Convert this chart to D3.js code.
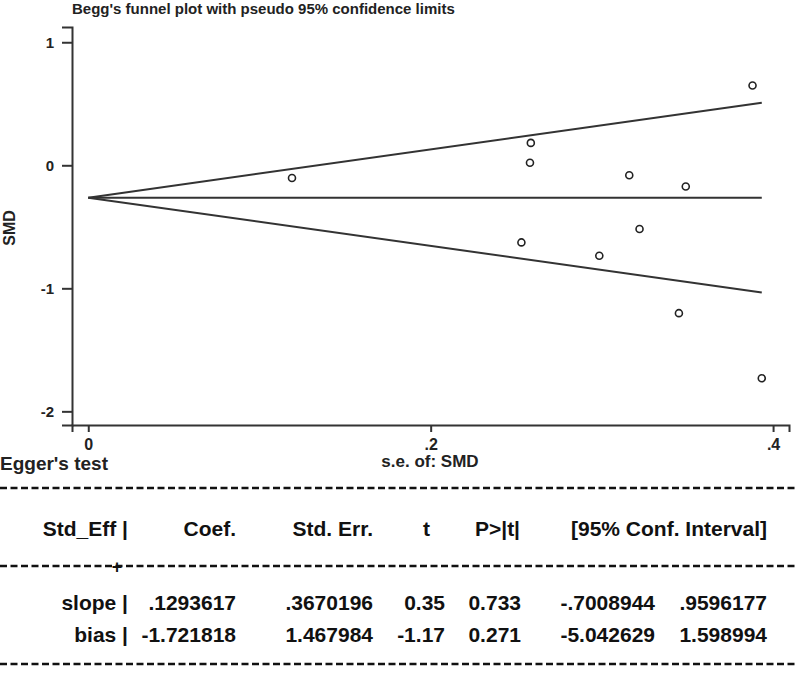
<!DOCTYPE html>
<html>
<head>
<meta charset="utf-8">
<script src="https://cdn.jsdelivr.net/npm/d3@7"></script>
<style>
  body { margin: 0; background: #fff; }
  svg { display: block; }
  .axis text { font-family: "Liberation Sans", Arial, sans-serif; font-weight: bold; font-size: 15px; fill: #222; }
  .axis path, .axis line { stroke: #333; stroke-width: 2; }
  .tbl { font-family: "Liberation Sans", Arial, sans-serif; font-weight: bold; font-size: 21px; fill: #111; }
</style>
</head>
<body>
<div id="chart"></div>
<script>
const WIDTH = 798;
const HEIGHT = 674;

// study standard errors and SMDs
var SE  = [0.119, 0.2585, 0.258, 0.316, 0.349, 0.388, 0.253, 0.2985, 0.322, 0.345, 0.3934];
var SMD = [-0.103, 0.182, 0.020, -0.081, -0.173, 0.649, -0.627, -0.735, -0.518, -1.202, -1.731];
var POOLED = -0.263;
var Z = 1.96;
var X_TICKS = [0, 0.2, 0.4];
var X_TICK_LABELS = ["0", ".2", ".4"];
var Y_TICKS = [1, 0, -1, -2];

// Egger's test table
var HEADERS = ["Std_Eff |", "Coef.", "Std. Err.", "t", "P>|t|", "[95% Conf. Interval]"];
var ROW_NAMES = ["slope |", "bias |"];
var COEF = [".1293617", "-1.721818"];
var STDERR = [".3670196", "1.467984"];
var TVAL = ["0.35", "-1.17"];
var PVAL = ["0.733", "0.271"];
var CI_LO = ["-.7008944", "-5.042629"];
var CI_HI = [".9596177", "1.598994"];

var svg = d3.select("#chart").append("svg")
  .attr("width", WIDTH).attr("height", HEIGHT);

//Scales
var xScale = d3.scaleLinear().domain([-0.0095, 0.4093]).range([72, 789]);
var yScale = d3.scaleLinear().domain([1.124, -2.111]).range([27, 425]);

//Title
svg.append("text")
  .attr("x", 72).attr("y", 14)
  .style("font-family", "'Liberation Sans', Arial, sans-serif")
  .style("font-weight", "bold").style("font-size", "15px").style("fill", "#222")
  .text("Begg's funnel plot with pseudo 95% confidence limits");

//Axes
svg.append("g").attr("class", "axis")
  .attr("transform", "translate(0,425)")
  .call(d3.axisBottom(xScale).tickValues(X_TICKS).tickSizeOuter(0).tickSize(7)
    .tickFormat((d, i) => X_TICK_LABELS[i]))
  .call(g => g.selectAll("text").attr("dy", "0.95em").style("font-size", "16px"));

svg.append("g").attr("class", "axis")
  .attr("transform", "translate(72,0)")
  .call(d3.axisLeft(yScale).tickValues(Y_TICKS).tickSizeOuter(0).tickSize(10).tickPadding(8)
    .tickFormat(d => String(d)));

svg.append("text")
  .attr("transform", "translate(15,228) rotate(-90)")
  .attr("text-anchor", "middle")
  .style("font-family", "'Liberation Sans', Arial, sans-serif")
  .style("font-weight", "bold").style("font-size", "16px").style("fill", "#222")
  .text("SMD");

svg.append("text")
  .attr("x", 430).attr("y", 467).attr("text-anchor", "middle")
  .style("font-family", "'Liberation Sans', Arial, sans-serif")
  .style("font-weight", "bold").style("font-size", "17px").style("fill", "#222")
  .text("s.e. of: SMD");

//Funnel lines
var maxSE = d3.max(SE);
var funnel = [
  [[0, POOLED], [maxSE, POOLED]],
  [[0, POOLED], [maxSE, POOLED + Z * maxSE]],
  [[0, POOLED], [maxSE, POOLED - Z * maxSE]]
];
var line = d3.line().x(d => xScale(d[0])).y(d => yScale(d[1]));
svg.append("g").selectAll("path").data(funnel).enter().append("path")
  .attr("d", line).attr("fill", "none").attr("stroke", "#333").attr("stroke-width", 2);

//Points
svg.append("g").selectAll("circle").data(SE).enter().append("circle")
  .attr("cx", d => xScale(d))
  .attr("cy", (d, i) => yScale(SMD[i]))
  .attr("r", 3.5).attr("fill", "none").attr("stroke", "#222").attr("stroke-width", 1.6);

//Egger's test label
svg.append("text")
  .attr("x", 0).attr("y", 470)
  .style("font-family", "'Liberation Sans', Arial, sans-serif")
  .style("font-weight", "bold").style("font-size", "19px").style("fill", "#222")
  .text("Egger's test");

//Dashed rules
function rule(y) {
  svg.append("line").attr("x1", 0).attr("x2", WIDTH).attr("y1", y).attr("y2", y)
    .attr("stroke", "#111").attr("stroke-width", 2.5).attr("stroke-dasharray", "7,3.5");
}
rule(488);
rule(566);
rule(664);
svg.append("text").attr("class", "tbl").attr("x", 117).attr("y", 573)
  .attr("text-anchor", "middle").style("font-size", "18px").text("+");

//Table
var colRight = [128, 236, 373, 430, 520, 767];
svg.append("g").selectAll("text").data(HEADERS).enter().append("text")
  .attr("class", "tbl")
  .attr("x", (d, i) => colRight[i]).attr("y", 536)
  .attr("text-anchor", "end").text(d => d);

var valRight = [128, 236, 373, 445, 521, 655, 767];
var rows = ROW_NAMES.map((n, i) => [n, COEF[i], STDERR[i], TVAL[i], PVAL[i], CI_LO[i], CI_HI[i]]);
rows.forEach(function (r, ri) {
  svg.append("g").selectAll("text").data(r).enter().append("text")
    .attr("class", "tbl")
    .attr("x", (d, i) => valRight[i]).attr("y", 610 + ri * 32)
    .attr("text-anchor", "end").text(d => d);
});
</script>
</body>
</html>
